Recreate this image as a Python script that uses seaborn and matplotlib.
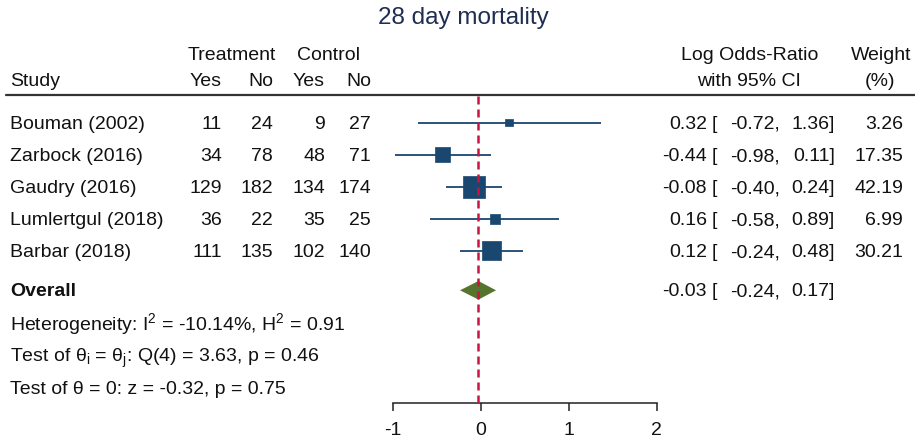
import matplotlib
matplotlib.use("Agg")
import matplotlib.pyplot as plt
import seaborn as sns
import pandas as pd

# ---------------- data ----------------
studies = ["Bouman (2002)", "Zarbock (2016)", "Gaudry (2016)", "Lumlertgul (2018)", "Barbar (2018)"]
treat_yes = [11, 34, 129, 36, 111]
treat_no = [24, 78, 182, 22, 135]
ctrl_yes = [9, 48, 134, 35, 102]
ctrl_no = [27, 71, 174, 25, 140]
log_or = [0.32, -0.44, -0.08, 0.16, 0.12]
ci_lo = [-0.72, -0.98, -0.40, -0.58, -0.24]
ci_hi = [1.36, 0.11, 0.24, 0.89, 0.48]
weight = [3.26, 17.35, 42.19, 6.99, 30.21]
overall_est = -0.03
overall_lo = -0.24
overall_hi = 0.17
x_ticks = [-1, 0, 1, 2]
title = "28 day mortality"
stat_lines = [
    r"Heterogeneity: I$^{2}$ = -10.14%, H$^{2}$ = 0.91",
    r"Test of θ$_{\mathrm{i}}$ = θ$_{\mathrm{j}}$: Q(4) = 3.63, p = 0.46",
    "Test of θ = 0: z = -0.32, p = 0.75",
]

# ---------------- style ----------------
sns.set_theme(style="white")
plt.rcParams["font.family"] = ["Liberation Sans", "DejaVu Sans"]
plt.rcParams["mathtext.fontset"] = "custom"
plt.rcParams["mathtext.rm"] = "Liberation Sans"
plt.rcParams["mathtext.it"] = "Liberation Sans"
plt.rcParams["mathtext.bf"] = "Liberation Sans:bold"

NAVY = "#1a476f"
GREEN = "#55752f"
RED = "#c8153f"
TXT = "#111111"
FS = 14

W, H = 915, 439
fig = plt.figure(figsize=(W / 100, H / 100), dpi=100)

# text overlay in pixel coordinates
tx = fig.add_axes([0, 0, 1, 1])
tx.set_xlim(0, W)
tx.set_ylim(H, 0)
tx.axis("off")

# plot axes
px_left, px_right, px_top, px_bot = 393.3, 656.7, 95.5, 404
ax = fig.add_axes([px_left / W, (H - px_bot) / H, (px_right - px_left) / W, (px_bot - px_top) / H])
ax.patch.set_alpha(0)

row0, row_step = 123.5, 32.05
def row_of(px):
    return (px - row0) / row_step

ax.set_xlim(x_ticks[0], x_ticks[-1])
ax.set_ylim(row_of(px_bot), row_of(px_top))

df = pd.DataFrame({"study": studies, "est": log_or, "lo": ci_lo, "hi": ci_hi,
                   "w": weight, "row": range(len(studies))})

ax.hlines(df["row"], df["lo"], df["hi"], color=NAVY, lw=1.3, zorder=2)
sns.scatterplot(data=df, x="est", y="row", size="w", sizes=(33, 251),
                marker="s", color=NAVY, edgecolor=NAVY, linewidth=0.5, legend=False, ax=ax, zorder=3)

ov_row = row_of(291.3)
dh = 0.29
ax.fill([overall_lo, overall_est, overall_hi, overall_est],
        [ov_row, ov_row - dh, ov_row, ov_row + dh], color=GREEN, lw=0, zorder=3)

ax.axvline(overall_est, color=RED, lw=1.8, ls=(0, (3.2, 2.0)), zorder=4)

for s in ["top", "right", "left"]:
    ax.spines[s].set_visible(False)
ax.spines["bottom"].set_color("#222222")
ax.spines["bottom"].set_linewidth(1.1)
ax.set_yticks([])
ax.set_xticks(x_ticks)
ax.set_xticklabels([str(t) for t in x_ticks])
ax.tick_params(axis="x", bottom=True, direction="out", length=5.8, width=1.1, color="#222222",
               labelsize=FS, labelcolor=TXT, pad=7)
ax.set_xlabel("")
ax.set_ylabel("")

# ---------------- texts ----------------
tx.text(463, 18, title, ha="center", va="center", fontsize=17.5, color="#1e2d52")

# headers
tx.text(232, 55, "Treatment", ha="center", va="center", fontsize=FS, color=TXT)
tx.text(328, 55, "Control", ha="center", va="center", fontsize=FS, color=TXT)
tx.text(10, 82, "Study", ha="left", va="center", fontsize=FS, color=TXT)
col_x = [222, 273, 325, 371]
for x, lab in zip(col_x, ["Yes", "No", "Yes", "No"]):
    tx.text(x, 82, lab, ha="right", va="center", fontsize=FS, color=TXT)
tx.text(750, 55, "Log Odds-Ratio", ha="center", va="center", fontsize=FS, color=TXT)
tx.text(749, 82, "with 95% CI", ha="center", va="center", fontsize=FS, color=TXT)
tx.text(881, 55, "Weight", ha="center", va="center", fontsize=FS, color=TXT)
tx.text(880, 82, "(%)", ha="center", va="center", fontsize=FS, color=TXT)
tx.plot([6, W], [96, 96], color="#333333", lw=1.6)

# study rows
for i, st in enumerate(studies):
    y = row0 + row_step * i + 1
    tx.text(10, y, st, ha="left", va="center", fontsize=FS, color=TXT)
    for x, v in zip(col_x, [treat_yes[i], treat_no[i], ctrl_yes[i], ctrl_no[i]]):
        tx.text(x, y, str(v), ha="right", va="center", fontsize=FS, color=TXT)
    tx.text(707, y, f"{log_or[i]:.2f}", ha="right", va="center", fontsize=FS, color=TXT)
    tx.text(712, y, "[", ha="left", va="center", fontsize=FS, color=TXT)
    tx.text(780, y, f"{ci_lo[i]:.2f},", ha="right", va="center", fontsize=FS, color=TXT)
    tx.text(835, y, f"{ci_hi[i]:.2f}]", ha="right", va="center", fontsize=FS, color=TXT)
    tx.text(903, y, f"{weight[i]:.2f}", ha="right", va="center", fontsize=FS, color=TXT)

# overall row
yo = 292
tx.text(10, yo, "Overall", ha="left", va="center", fontsize=FS, color=TXT, fontweight="bold")
tx.text(707, yo, f"{overall_est:.2f}", ha="right", va="center", fontsize=FS, color=TXT)
tx.text(712, yo, "[", ha="left", va="center", fontsize=FS, color=TXT)
tx.text(780, yo, f"{overall_lo:.2f},", ha="right", va="center", fontsize=FS, color=TXT)
tx.text(835, yo, f"{overall_hi:.2f}]", ha="right", va="center", fontsize=FS, color=TXT)

for k, line in enumerate(stat_lines):
    tx.text(10, 330.5 + 32 * k, line, ha="left", va="baseline", fontsize=FS, color=TXT)

fig.savefig("out.png", dpi=100)
